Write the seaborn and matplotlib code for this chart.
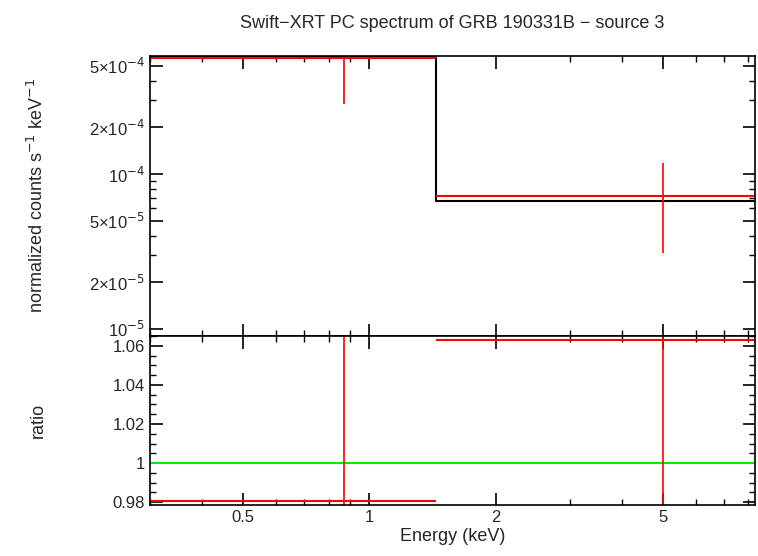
import numpy as np
import pandas as pd
import matplotlib
matplotlib.use("Agg")
import matplotlib.pyplot as plt
import seaborn as sns
from matplotlib.ticker import FixedLocator, FixedFormatter, MultipleLocator, LogLocator, NullFormatter

# bins (keV)
bin_lo = [0.3, 1.44]
bin_hi = [1.44, 8.3]
bin_center = [0.87, 5.0]
# spectrum
data_rate = [5.6e-4, 7.2e-5]
rate_err_lo = [2.83e-4, 3.09e-5]
rate_err_hi = [9.0e-4, 1.18e-4]
model_rate = [5.65e-4, 6.7e-5]
# ratio
ratio = [0.9805, 1.063]

sns.set_style("white")
plt.rcParams["font.family"] = "Liberation Sans"
fig = plt.figure(figsize=(7.58, 5.56), dpi=100)
W, H = 758, 556
ax1 = fig.add_axes([150 / W, 1 - 336 / H, 605 / W, 280 / H])
ax2 = fig.add_axes([150 / W, 1 - 505 / H, 605 / W, 169 / H], sharex=ax1)

model_df = pd.DataFrame({"E": bin_lo + [bin_hi[-1]], "rate": model_rate + [model_rate[-1]]})
sns.lineplot(data=model_df, x="E", y="rate", ax=ax1, color="black", drawstyle="steps-post", lw=1.5)
ax1.hlines(data_rate, bin_lo, bin_hi, color="red", lw=1.5)
ax1.vlines(bin_center, rate_err_lo, rate_err_hi, color="red", lw=1.2)
ax1.set_xscale("log")
ax1.set_yscale("log")
ax1.set_xlim(0.3, 8.3)
ax1.set_ylim(9.0e-6, 5.77e-4)
yt = [1e-5, 2e-5, 5e-5, 1e-4, 2e-4, 5e-4]
ax1.yaxis.set_major_locator(FixedLocator(yt))
ax1.yaxis.set_major_formatter(FixedFormatter(["10$^{-5}$", "2×10$^{-5}$", "5×10$^{-5}$",
                                              "10$^{-4}$", "2×10$^{-4}$", "5×10$^{-4}$"]))
ax1.yaxis.set_minor_locator(LogLocator(subs=np.arange(2, 10)))
ax1.yaxis.set_minor_formatter(NullFormatter())
ax1.set_ylabel("normalized counts s$^{-1}$ keV$^{-1}$", fontsize=13)
ax1.set_xlabel("")
ax1.set_title("Swift−XRT PC spectrum of GRB 190331B − source 3", fontsize=13, pad=20)

ratio_df = pd.DataFrame({"E": [0.3, 8.3], "r": [1.0, 1.0]})
sns.lineplot(data=ratio_df, x="E", y="r", ax=ax2, color="#00ee00", lw=1.5)
ax2.hlines(ratio, bin_lo, bin_hi, color="red", lw=1.5)
ax2.vlines(bin_center, 0.9, 1.1, color="red", lw=1.2)
ax2.set_ylim(0.9785, 1.0651)
ax2.yaxis.set_major_locator(FixedLocator([0.98, 1.0, 1.02, 1.04, 1.06]))
ax2.yaxis.set_major_formatter(FixedFormatter(["0.98", "1", "1.02", "1.04", "1.06"]))
ax2.yaxis.set_minor_locator(MultipleLocator(0.005))
ax2.xaxis.set_major_locator(FixedLocator([0.5, 1, 2, 5]))
ax2.xaxis.set_major_formatter(FixedFormatter(["0.5", "1", "2", "5"]))
ax2.xaxis.set_minor_locator(FixedLocator([0.3, 0.4, 0.6, 0.7, 0.8, 0.9, 3, 4, 6, 7, 8]))
ax2.xaxis.set_minor_formatter(NullFormatter())
ax2.set_xlabel("Energy (keV)", fontsize=13, labelpad=2)
ax2.set_ylabel("ratio", fontsize=13)
ax2.yaxis.set_label_coords(-0.17, 0.5)
ax1.yaxis.set_label_coords(-0.17, 0.5)

for ax in (ax1, ax2):
    for s in ax.spines.values():
        s.set_color("black")
        s.set_linewidth(1.2)
    ax.tick_params(which="both", direction="in", top=True, right=True, left=True, bottom=True,
                   labelsize=12, color="black")
    ax.tick_params(which="major", length=9, width=1.2)
    ax.tick_params(which="minor", length=4.5, width=1)
ax1.tick_params(labelbottom=False)

fig.savefig("out.png", dpi=100)
